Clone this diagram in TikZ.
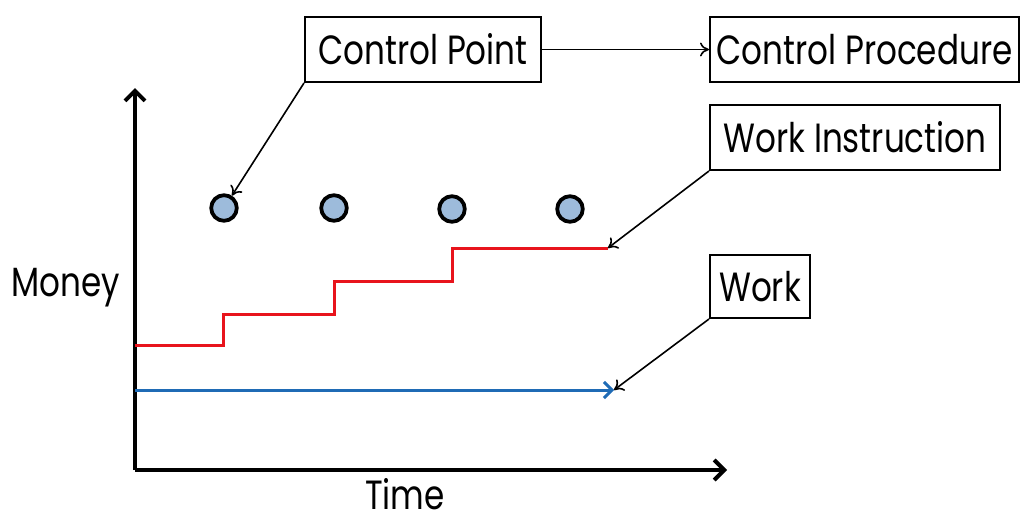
\documentclass[tikz,border=0pt]{standalone}
\usepackage{fontspec}
\setmainfont[FakeStretch=0.8]{Poppins}
\usetikzlibrary{arrows.meta}
\definecolor{dotblue}{RGB}{157,187,219}
\definecolor{stepred}{RGB}{232,20,28}
\definecolor{workblue}{RGB}{31,107,181}

\begin{document}
\begin{tikzpicture}
  [x=0.5pt, y=-0.5pt, font=\fontsize{20.4}{24}\selectfont,
   lbl/.style={draw, line width=1pt, inner sep=0pt, minimum height=32.5pt},
   pointer/.style={-{To[length=4.5pt,width=7pt]}, line width=0.8pt},
   axis/.style={line width=2pt, -{Straight Barb[length=5pt,width=10pt]}}]
  \useasboundingbox (0,0) rectangle (1021,525);
  % axes
  \coordinate (o) at (135,470);
  \coordinate (ytop) at (135,88);
  \coordinate (xend) at (727,470);
  \draw[axis] (o) -- (ytop);
  \draw[axis] (o) -- (xend);
  \node (money) at (66,288) {Money};
  \node[anchor=base, inner sep=0pt] (time) at (405,509) {Time};
  % labels
  \node[lbl, minimum width=118pt] (cp) at (423,49.5) {Control Point};
  \node[lbl, minimum width=154.5pt] (proc) at (864.5,49.5) {Control Procedure};
  \node[lbl, minimum width=145pt] (wi) at (855,137.5) {Work Instruction};
  \node[lbl, minimum width=50pt, minimum height=31.5pt] (work) at (760,286.5) {Work};
  % control points
  \foreach \n/\x/\y in {1/224/208,2/334/208,3/452/209,4/570/209}{
    \node[circle, draw, line width=1.9pt, fill=dotblue,
      inner sep=0pt, minimum size=12.8pt] (d\n) at (\x,\y) {};}
  % work instruction steps
  \coordinate (wiend) at (608,248);
  \draw[stepred, line width=1.5pt] (135,345) -| (223,314) -| (334,281)
    -| (452,248) -- (wiend);
  % work
  \coordinate (wend) at (614,390);
  \draw[workblue, line width=1.5pt, -{Straight Barb[length=4pt,width=8pt]}]
    (135,390) -- (wend);
  % pointers
  \draw[pointer] (cp) -- (proc);
  \draw[pointer] (cp.south west) -- (d1);
  \draw[pointer] (wi.south west) -- (wiend);
  \draw[pointer] (work.south west) -- (wend);
\end{tikzpicture}
\end{document}
